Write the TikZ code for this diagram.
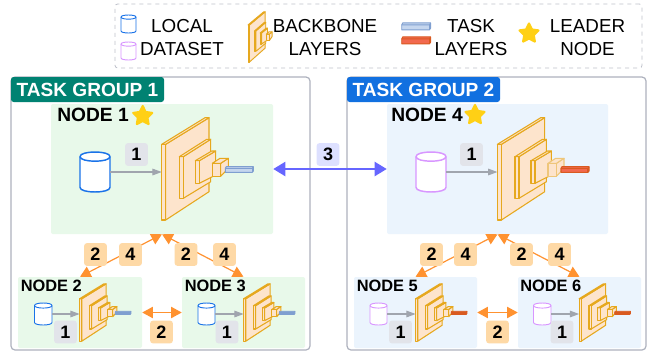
\documentclass[tikz,border=0pt]{standalone}
\usepackage{fontspec}
\setmainfont{Liberation Sans}
\usetikzlibrary{fit,shapes.geometric,arrows.meta}
\definecolor{cgreen}{HTML}{E8F9EA}
\definecolor{cblue}{HTML}{EBF4FD}
\definecolor{cteal}{HTML}{008272}
\definecolor{cbluehead}{HTML}{1170E0}
\definecolor{cframe}{HTML}{AEB2BE}
\definecolor{cgraybadge}{HTML}{E2E4EA}
\definecolor{corbadge}{HTML}{FED9A6}
\definecolor{cviobadge}{HTML}{DDE0FF}
\definecolor{cor}{HTML}{FF9230}
\definecolor{cvio}{HTML}{6666FF}
\definecolor{carrow}{HTML}{A0A5AE}
\definecolor{cbbfill}{HTML}{FDE4CC}
\definecolor{cbbline}{HTML}{E6A81E}
\definecolor{ccubelight}{HTML}{EEC67A}
\colorlet{ccube}{cbbline}
\definecolor{cblcyl}{HTML}{1A73E8}
\definecolor{cpkcyl}{HTML}{D896FF}
\definecolor{cstar}{HTML}{FFD015}
\definecolor{ctbf}{HTML}{C5D6EE}
\definecolor{ctbl}{HTML}{7F9FD0}
\definecolor{ctrf}{HTML}{F2694F}
\definecolor{ctrl}{HTML}{D95A20}
\tikzset{x=0.75pt,y=-0.75pt,
  panel/.style={inner sep=0pt,rounded corners=1.5pt,fill=#1},
  frame/.style={inner sep=0pt,rounded corners=3pt,draw=cframe,line width=0.9pt,fill=white},
  head/.style={inner sep=0pt,rounded corners=2pt,fill=#1},
  headtext/.style={text=white,font=\fontsize{14.3}{16}\selectfont\bfseries,inner sep=0pt},
  nodetitle/.style={font=\fontsize{14.4}{16}\selectfont\bfseries,inner sep=0pt},
  smalltitle/.style={font=\fontsize{12.3}{14}\selectfont\bfseries,inner sep=0pt},
  legtext/.style={font=\fontsize{14.1}{17}\selectfont,inner sep=0pt,align=center},
  badge/.style={fill=#1,rounded corners=2pt,minimum width=17pt,minimum height=17pt,inner sep=0pt,font=\fontsize{13.5}{15}\selectfont\bfseries},
  leader/.style={star,star points=5,star point ratio=2,fill=cstar,draw=cstar,line width=1.6pt,line join=round,inner sep=0pt,minimum size=#1},
  flow/.style={draw=carrow,line width=0.8pt,-{Triangle[length=7pt,width=5pt]}},
  link/.style={draw=cor,line width=0.9pt,{Triangle[length=8pt,width=8.5pt]}-{Triangle[length=8pt,width=8.5pt]}},
  sync/.style={draw=cvio,line width=1.5pt,{Triangle[length=9pt,width=10.5pt]}-{Triangle[length=9pt,width=10.5pt]}}
}
% name x0 y0 x1 y1 colour width
\newcommand{\datacyl}[7]{%
  \pgfmathsetmacro{\cry}{(#5-#3)*0.115}%
  \pgfmathsetmacro{\cyt}{#3+\cry}%
  \pgfmathsetmacro{\cyb}{#5-\cry}%
  \pgfmathsetmacro{\ctu}{\cyt-1.333*\cry}%
  \pgfmathsetmacro{\ctd}{\cyt+1.333*\cry}%
  \pgfmathsetmacro{\cbd}{\cyb+1.333*\cry}%
  \path[draw=#6,line width=#7,fill=white]
    (#2,\cyt) -- (#2,\cyb) .. controls (#2,\cbd) and (#4,\cbd) .. (#4,\cyb)
    -- (#4,\cyt) .. controls (#4,\ctu) and (#2,\ctu) .. (#2,\cyt) -- cycle;
  \path[draw=#6,line width=#7] (#2,\cyt) .. controls (#2,\ctd) and (#4,\ctd) .. (#4,\cyt);
  \coordinate (#1) at (#4,{(#3+#5)/2});
}
% name x y xscale yscale linewidth
\newcommand{\backbone}[6]{%
  \begin{scope}[shift={(#2,#3)},xscale=#4,yscale=#5,draw=cbbline,fill=cbbfill,line width=#6,line join=round]
    \path[draw,fill] (4.2,26.3) -- (47.5,-0.3) -- (47.5,73.7) -- (4.2,102) -- cycle;
    \path[draw,fill] (0.2,26.3) -- (4.2,26.3) -- (4.2,102) -- (0.2,102) -- cycle;
    \path[draw,fill] (0.2,26.3) -- (43.5,-0.3) -- (47.5,-0.3) -- (4.2,26.3) -- cycle;
    \path[draw,fill] (21.8,38.7) -- (49.2,21.3) -- (49.2,63.7) -- (21.8,80.3) -- cycle;
    \path[draw,fill] (17.8,38.7) -- (21.8,38.7) -- (21.8,80.3) -- (17.8,80.3) -- cycle;
    \path[draw,fill] (17.8,38.7) -- (45.2,21.3) -- (49.2,21.3) -- (21.8,38.7) -- cycle;
    \path[draw,fill] (37.8,42.7) -- (54.2,33) -- (54.2,57) -- (37.8,65.3) -- cycle;
    \path[draw,fill] (33.8,42.7) -- (37.8,42.7) -- (37.8,65.3) -- (33.8,65.3) -- cycle;
    \path[draw,fill] (33.8,42.7) -- (50.2,33) -- (54.2,33) -- (37.8,42.7) -- cycle;
    \path[draw=ccube,fill] (59.2,45.3) -- (66.8,40.3) -- (66.8,50.3) -- (59.2,58.3) -- cycle;
    \path[draw=ccube,fill] (50.8,45.3) -- (59.2,45.3) -- (59.2,58.3) -- (50.8,58.3) -- cycle;
    \path[draw=ccube,fill] (50.8,45.3) -- (58.5,40.3) -- (66.8,40.3) -- (59.2,45.3) -- cycle;
    \coordinate (#1) at (0.2,57);
  \end{scope}
}
% x y xscale yscale fill line width
\newcommand{\tasklayer}[7]{%
  \begin{scope}[shift={(#1,#2)},xscale=#3,yscale=#4,draw=#6,fill=#5,line width=#7,line join=round]
    \path[draw,fill] (63.8,50.3) -- (64.8,48.7) -- (91.8,48.7) -- (91.8,53) -- (90.8,54.3) -- (63.8,54.3) -- cycle;
    \path[draw] (63.8,50.3) -- (90.8,50.3) -- (91.8,48.7);
    \path[draw] (90.8,50.3) -- (90.8,54.3);
  \end{scope}
}
\begin{document}
\begin{tikzpicture}
\useasboundingbox (0,0) rectangle (652,351);
\fill[white] (0,0) rectangle (652,351);
% legend
\node[fit={(115,4)(642,68)},inner sep=0pt,rounded corners=2pt,draw=cframe!80,dashed,line width=0.6pt] (legend) {};
\datacyl{lc1}{121}{15}{136}{33}{cblcyl}{0.7pt}
\datacyl{lc2}{121}{42}{136}{60}{cpkcyl}{0.7pt}
\node[legtext] (lt1) at (182,37.5) {LOCAL\\DATASET};
\backbone{lb}{248}{12}{0.36}{0.49}{0.7pt}
\node[legtext] (lt2) at (325,37.5) {BACKBONE\\LAYERS};
\tasklayer{336}{-38}{1.03}{1.25}{ctbf}{ctbl}{0.7pt}
\tasklayer{336}{-24}{1.03}{1.25}{ctrf}{ctrl}{0.7pt}
\node[legtext] (lt3) at (471,37.5) {TASK\\LAYERS};
\node[leader=15pt] (ls) at (529,33.5) {};
\node[legtext] (lt4) at (587.5,37.5) {LEADER\\NODE};
% group frames
\node[frame,fit={(11,77)(310,350)}] (g1) {};
\node[frame,fit={(347,77)(646,350)}] (g2) {};
\node[head=cteal,fit={(11,77)(164,102)}] (h1) {};
\node[head=cbluehead,fit={(347,77)(500,102)}] (h2) {};
\node[headtext] (h1t) at (h1.center) {TASK GROUP 1};
\node[headtext] (h2t) at (h2.center) {TASK GROUP 2};
% panels
\node[panel=cgreen,fit={(51,104)(273,234)}] (n1) {};
\node[panel=cblue,fit={(387,104)(608,234)}] (n4) {};
\node[panel=cgreen,fit={(18,277)(142,348)}] (n2) {};
\node[panel=cgreen,fit={(182,277)(305,348)}] (n3) {};
\node[panel=cblue,fit={(354,277)(477,348)}] (n5) {};
\node[panel=cblue,fit={(518,277)(641,348)}] (n6) {};
% titles
\node[nodetitle,anchor=west] (t1) at (57,114.5) {NODE 1};
\node[nodetitle,anchor=west] (t4) at (391,114.5) {NODE 4};
\node[smalltitle,anchor=west] (t2) at (20.5,286) {NODE 2};
\node[smalltitle,anchor=west] (t3) at (184.5,286) {NODE 3};
\node[smalltitle,anchor=west] (t5) at (356.5,286) {NODE 5};
\node[smalltitle,anchor=west] (t6) at (520,286) {NODE 6};
\node[leader=15pt] (s1) at (142.7,116) {};
\node[leader=15pt] (s4) at (475,115) {};
% cylinders, backbones, task layers
\datacyl{c1}{80}{152}{110}{192}{cblcyl}{1.1pt}
\datacyl{c4}{416}{152}{446}{192}{cpkcyl}{1.1pt}
\datacyl{c2}{34.5}{303}{52}{325}{cblcyl}{0.7pt}
\datacyl{c3}{198}{303}{215}{325}{cblcyl}{0.7pt}
\datacyl{c5}{370}{303}{387}{325}{cpkcyl}{0.7pt}
\datacyl{c6}{533.5}{303}{551}{325}{cpkcyl}{0.7pt}
\backbone{b1}{161.5}{118}{1}{1}{0.8pt}
\begingroup\colorlet{ccube}{ccubelight}
\backbone{b4}{497.2}{118}{1}{1}{0.8pt}
\endgroup
\backbone{b2}{79.5}{284}{0.56}{0.56}{0.8pt}
\backbone{b3}{243.5}{284}{0.56}{0.56}{0.8pt}
\backbone{b5}{415.5}{284}{0.56}{0.56}{0.8pt}
\backbone{b6}{579}{284}{0.56}{0.56}{0.8pt}
\tasklayer{161.5}{118}{1}{1}{ctbf}{ctbl}{0.8pt}
\tasklayer{497.2}{118}{1}{1}{ctrf}{ctrl}{0.8pt}
\tasklayer{79.5}{284}{0.56}{0.56}{ctbl}{ctbl}{0.6pt}
\tasklayer{243.5}{284}{0.56}{0.56}{ctbl}{ctbl}{0.6pt}
\tasklayer{415.5}{284}{0.56}{0.56}{ctrl}{ctrl}{0.6pt}
\tasklayer{579}{284}{0.56}{0.56}{ctrl}{ctrl}{0.6pt}
% connectors
\draw[flow] (c1) -- (c1 -| b1);
\draw[flow] (c4) -- (c4 -| b4);
\draw[flow] (c2) -- (c2 -| b2);
\draw[flow] (c3) -- (c3 -| b3);
\draw[flow] (c5) -- (c5 -| b5);
\draw[flow] (c6) -- (c6 -| b6);
\draw[link] (n2.north) -- (n1.south);
\draw[link] (n1.south) -- (n3.north);
\draw[link] (n2.east) -- (n3.west);
\draw[link] (n5.north) -- (n4.south);
\draw[link] (n4.south) -- (n6.north);
\draw[link] (n5.east) -- (n6.west);
\draw[sync] (n1.east) -- (n4.west);
% badges
\node[badge=cgraybadge] (a1) at (136.5,154.5) {1};
\node[badge=cgraybadge] (a4) at (471.5,154.5) {1};
\node[badge=cgraybadge] (a2) at (65.5,332) {1};
\node[badge=cgraybadge] (a3) at (227,332) {1};
\node[badge=cgraybadge] (a5) at (400.5,332) {1};
\node[badge=cgraybadge] (a6) at (562,332) {1};
\node[badge=corbadge] (o1) at (95.5,254.5) {2};
\node[badge=corbadge] (o2) at (130.5,254.5) {4};
\node[badge=corbadge] (o3) at (186,254.5) {2};
\node[badge=corbadge] (o4) at (224.5,254.5) {4};
\node[badge=corbadge] (o5) at (161.5,332) {2};
\node[badge=corbadge] (o6) at (431.5,254.5) {2};
\node[badge=corbadge] (o7) at (465.5,254.5) {4};
\node[badge=corbadge] (o8) at (521.5,254.5) {2};
\node[badge=corbadge] (o9) at (559.5,254.5) {4};
\node[badge=corbadge] (o10) at (497.5,332) {2};
\node[badge=cviobadge] (v3) at (328,154.5) {3};
\end{tikzpicture}
\end{document}
